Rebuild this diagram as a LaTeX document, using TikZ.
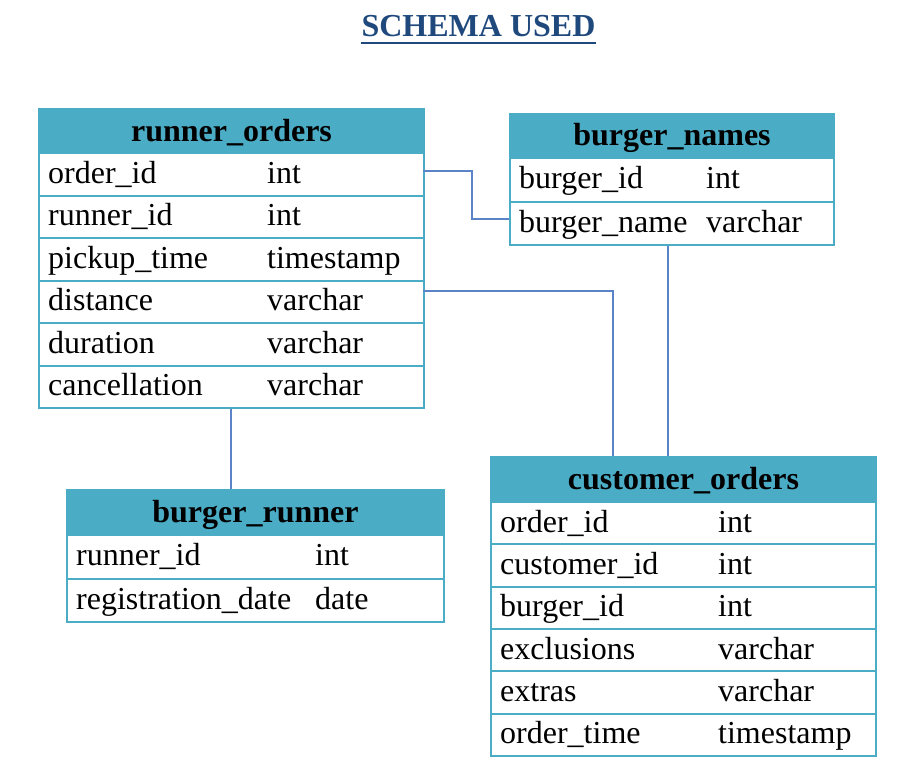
\documentclass[tikz,border=0pt]{standalone}
\usepackage{fontspec}
\setmainfont{Liberation Serif}
\definecolor{tealc}{HTML}{4BACC6}
\definecolor{titleblue}{HTML}{1F497D}
\definecolor{linkc}{HTML}{5B84C8}
\tikzset{
  hdrbox/.style={draw=tealc, fill=tealc, line width=2pt, inner sep=0pt, anchor=north west,
    font=\fontsize{32}{38}\selectfont\bfseries, text height=22pt, text depth=2pt},
  rowbox/.style={draw=tealc, fill=white, line width=2pt, inner sep=0pt, anchor=north west},
  cell/.style={inner sep=0pt, anchor=west, font=\fontsize{32}{38}\selectfont, text height=21pt, text depth=3pt},
  link/.style={draw=linkc, line width=1.2pt}
}
% #1 name, #2 x, #3 y, #4 width, #5 col2 offset, #6 title, #7 rows ; \hh header height, \rh row height
\newcommand\dbtable[7]{%
  \node[hdrbox, minimum width=#4pt, minimum height=\hh pt] (#1h) at (#2,#3) {#6};
  \foreach \a/\b [count=\i] in {#7} {
    \node[rowbox, minimum width=#4pt, minimum height=\rh pt] (#1\i) at (#2,{#3+\hh+(\i-1)*\rh}) {};
    \node[cell] (#1a\i) at ([xshift=10pt]#1\i.west) {\a};
    \node[cell] (#1b\i) at ([xshift=#5pt]#1\i.west) {\b};
  }
}
\begin{document}
\begin{tikzpicture}[x=1pt,y=-1pt]
\fill[white] (0,0) rectangle (911,784);
\useasboundingbox (0,0) rectangle (911,784);

\node[inner sep=0pt, anchor=base, font=\fontsize{32}{38}\selectfont\bfseries, text=titleblue] (title) at (478.5,37) {SCHEMA USED};
\draw[titleblue, line width=2.6pt] ([yshift=-6pt]title.base west) -- ([yshift=-6pt]title.base east);

\def\hh{44}\def\rh{42.5}
\dbtable{ro}{38}{108}{385}{229}{runner\_orders}{order\_id/int, runner\_id/int, pickup\_time/timestamp, distance/varchar, duration/varchar, cancellation/varchar}

\def\hh{44}\def\rh{43.5}
\dbtable{bn}{509}{113}{324}{197}{burger\_names}{burger\_id/int, burger\_name/varchar}

\def\hh{45}\def\rh{42.33}
\dbtable{co}{490}{456}{385}{228}{customer\_orders}{order\_id/int, customer\_id/int, burger\_id/int, exclusions/varchar, extras/varchar, order\_time/timestamp}

\def\hh{45}\def\rh{43.5}
\dbtable{br}{66}{489}{377}{249}{burger\_runner}{runner\_id/int, registration\_date/date}

% connectors
\coordinate (k1) at (472,171);
\coordinate (k2) at (613,291);
\coordinate (k3) at (668,244);
\coordinate (k4) at (231,407);
\draw[link] ([xshift=-2pt]ro1.east |- k1) -- (k1) |- (bn2.west |- 0,219);
\draw[link] ([xshift=-2pt]ro4.east |- k2) -- (k2) -- (coh.north -| k2);
\draw[link] (bn2.south -| k3) -- (coh.north -| k3);
\draw[link] (ro6.south -| k4) -- (brh.north -| k4);
\end{tikzpicture}
\end{document}
